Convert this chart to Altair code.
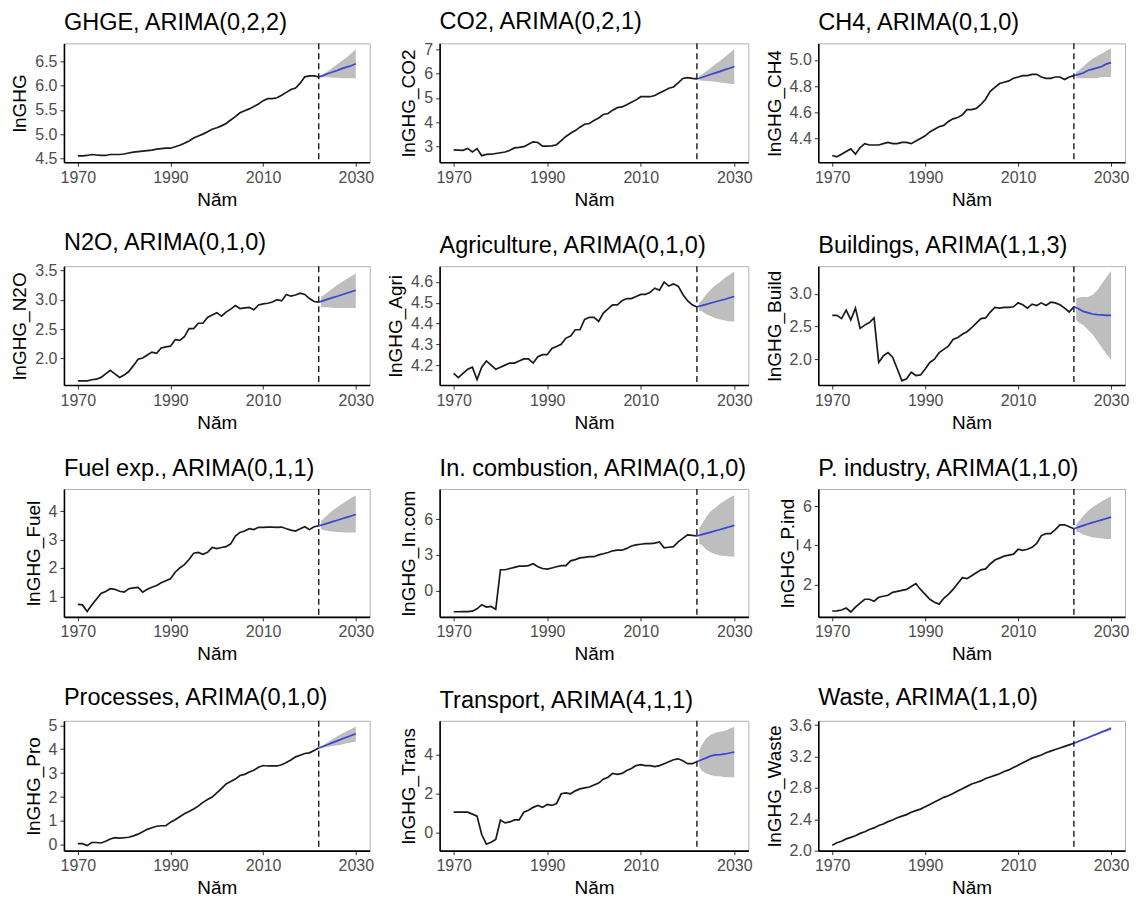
import altair as alt
import pandas as pd

FONT = "Liberation Sans"

YEARS = list(range(1970, 2023))
FC_YEARS = list(range(2022, 2031))
BAND_YEARS = [2022.5, 2023, 2024, 2025, 2026, 2027, 2028, 2029, 2030]
X_TICKS = [1970, 1990, 2010, 2030]

TITLES = ["GHGE, ARIMA(0,2,2)", "CO2, ARIMA(0,2,1)", "CH4, ARIMA(0,1,0)",
          "N2O, ARIMA(0,1,0)", "Agriculture, ARIMA(0,1,0)", "Buildings, ARIMA(1,1,3)",
          "Fuel exp., ARIMA(0,1,1)", "In. combustion, ARIMA(0,1,0)", "P. industry, ARIMA(1,1,0)",
          "Processes, ARIMA(0,1,0)", "Transport, ARIMA(4,1,1)", "Waste, ARIMA(1,1,0)"]
YLABS = ["lnGHG", "lnGHG_CO2", "lnGHG_CH4", "lnGHG_N2O", "lnGHG_Agri", "lnGHG_Build",
         "lnGHG_Fuel", "lnGHG_In.com", "lnGHG_P.ind", "lnGHG_Pro", "lnGHG_Trans", "lnGHG_Waste"]

# ---- historical series (1970..2022) ----
ghge = [4.55, 4.55, 4.56, 4.58, 4.57, 4.56, 4.56, 4.58, 4.58, 4.58,
        4.59, 4.61, 4.63, 4.64, 4.65, 4.66, 4.67, 4.69, 4.70, 4.71,
        4.71, 4.74, 4.77, 4.81, 4.86, 4.92, 4.96, 5.00, 5.05, 5.10,
        5.13, 5.17, 5.22, 5.29, 5.36, 5.44, 5.48, 5.52, 5.57, 5.62,
        5.69, 5.73, 5.73, 5.75, 5.80, 5.86, 5.92, 5.95, 6.05, 6.18,
        6.20, 6.20, 6.18]
co2 = [2.87, 2.86, 2.85, 2.93, 2.78, 2.92, 2.63, 2.68, 2.69, 2.72,
       2.75, 2.78, 2.85, 2.95, 2.97, 3.00, 3.10, 3.20, 3.17, 3.02,
       3.02, 3.03, 3.08, 3.25, 3.42, 3.55, 3.66, 3.80, 3.92, 3.95,
       4.07, 4.18, 4.32, 4.36, 4.50, 4.60, 4.63, 4.72, 4.82, 4.92,
       5.05, 5.05, 5.05, 5.10, 5.20, 5.30, 5.40, 5.45, 5.62, 5.80,
       5.83, 5.80, 5.78]
ch4 = [4.27, 4.26, 4.28, 4.30, 4.32, 4.28, 4.33, 4.36, 4.35, 4.35,
       4.35, 4.36, 4.37, 4.36, 4.36, 4.37, 4.37, 4.36, 4.38, 4.40,
       4.42, 4.45, 4.47, 4.49, 4.50, 4.53, 4.55, 4.56, 4.58, 4.62,
       4.62, 4.63, 4.66, 4.70, 4.76, 4.79, 4.82, 4.83, 4.84, 4.86,
       4.87, 4.88, 4.88, 4.89, 4.89, 4.87, 4.86, 4.86, 4.87, 4.87,
       4.85, 4.87, 4.88]
n2o = [1.62, 1.62, 1.62, 1.64, 1.65, 1.68, 1.74, 1.80, 1.74, 1.68,
       1.72, 1.78, 1.88, 1.99, 2.01, 2.06, 2.11, 2.09, 2.18, 2.20,
       2.21, 2.32, 2.31, 2.37, 2.51, 2.51, 2.60, 2.60, 2.70, 2.74,
       2.78, 2.72, 2.79, 2.84, 2.90, 2.85, 2.86, 2.87, 2.83, 2.91,
       2.93, 2.94, 2.96, 3.00, 2.98, 3.09, 3.06, 3.08, 3.11, 3.09,
       3.02, 2.97, 2.96]
agri = [4.16, 4.14, 4.16, 4.18, 4.19, 4.13, 4.19, 4.22, 4.20, 4.18,
        4.19, 4.20, 4.21, 4.21, 4.22, 4.23, 4.23, 4.21, 4.24, 4.25,
        4.25, 4.28, 4.29, 4.30, 4.33, 4.34, 4.37, 4.37, 4.42, 4.43,
        4.43, 4.41, 4.45, 4.47, 4.49, 4.49, 4.51, 4.52, 4.52, 4.53,
        4.54, 4.54, 4.55, 4.57, 4.56, 4.60, 4.58, 4.59, 4.58, 4.54,
        4.51, 4.49, 4.48]
build = [2.67, 2.67, 2.62, 2.75, 2.60, 2.78, 2.47, 2.52, 2.56, 2.63,
         1.95, 2.05, 2.10, 2.03, 1.85, 1.67, 1.70, 1.80, 1.75, 1.76,
         1.85, 1.95, 2.00, 2.10, 2.15, 2.20, 2.30, 2.33, 2.38, 2.42,
         2.48, 2.55, 2.62, 2.63, 2.72, 2.79, 2.78, 2.79, 2.79, 2.80,
         2.86, 2.83, 2.78, 2.84, 2.82, 2.86, 2.82, 2.87, 2.86, 2.83,
         2.78, 2.72, 2.80]
fuel = [0.72, 0.70, 0.47, 0.70, 0.90, 1.10, 1.17, 1.27, 1.25, 1.18,
        1.15, 1.27, 1.30, 1.32, 1.15, 1.25, 1.32, 1.38, 1.48, 1.55,
        1.62, 1.85, 2.00, 2.12, 2.30, 2.52, 2.55, 2.48, 2.55, 2.72,
        2.68, 2.72, 2.75, 2.85, 3.12, 3.25, 3.30, 3.38, 3.35, 3.43,
        3.43, 3.44, 3.44, 3.43, 3.44, 3.38, 3.33, 3.30, 3.38, 3.45,
        3.35, 3.45, 3.48]
incom = [-1.80, -1.80, -1.78, -1.78, -1.75, -1.55, -1.20, -1.40, -1.35, -1.60,
         1.75, 1.75, 1.85, 1.95, 2.05, 2.05, 2.10, 2.25, 2.00, 1.85,
         1.80, 1.90, 2.00, 2.10, 2.10, 2.50, 2.60, 2.75, 2.80, 2.85,
         2.85, 3.00, 3.10, 3.20, 3.35, 3.40, 3.40, 3.55, 3.75, 3.85,
         3.90, 3.95, 3.95, 4.00, 4.10, 3.60, 3.65, 3.70, 4.10, 4.40,
         4.70, 4.65, 4.60]
pind = [0.65, 0.66, 0.70, 0.80, 0.60, 0.85, 1.05, 1.25, 1.25, 1.15,
        1.35, 1.40, 1.45, 1.60, 1.65, 1.70, 1.75, 1.90, 2.05, 1.75,
        1.50, 1.25, 1.10, 1.00, 1.30, 1.50, 1.75, 2.05, 2.35, 2.30,
        2.45, 2.60, 2.75, 2.80, 3.05, 3.25, 3.35, 3.45, 3.50, 3.55,
        3.80, 3.75, 3.80, 3.90, 4.10, 4.50, 4.60, 4.60, 4.80, 5.05,
        5.05, 4.95, 4.85]
proc = [0.05, 0.05, -0.03, 0.10, 0.10, 0.08, 0.15, 0.25, 0.30, 0.28,
        0.30, 0.32, 0.38, 0.45, 0.55, 0.65, 0.72, 0.78, 0.80, 0.80,
        0.95, 1.05, 1.18, 1.30, 1.40, 1.50, 1.62, 1.78, 1.90, 2.00,
        2.18, 2.35, 2.55, 2.65, 2.75, 2.90, 2.95, 3.05, 3.12, 3.25,
        3.32, 3.30, 3.30, 3.30, 3.35, 3.45, 3.55, 3.68, 3.75, 3.82,
        3.85, 3.95, 4.05]
trans = [1.05, 1.05, 1.05, 1.05, 0.95, 0.85, -0.10, -0.60, -0.50, -0.35,
         0.65, 0.50, 0.55, 0.65, 0.65, 1.05, 1.15, 1.30, 1.40, 1.30,
         1.45, 1.40, 1.50, 2.00, 2.05, 2.00, 2.15, 2.25, 2.30, 2.35,
         2.45, 2.55, 2.75, 2.85, 3.05, 3.00, 3.05, 3.20, 3.30, 3.45,
         3.50, 3.45, 3.45, 3.40, 3.45, 3.55, 3.65, 3.75, 3.80, 3.70,
         3.55, 3.55, 3.65]
waste = [2.07, 2.10, 2.12, 2.15, 2.17, 2.19, 2.22, 2.24, 2.27, 2.29,
         2.32, 2.34, 2.37, 2.39, 2.42, 2.44, 2.46, 2.49, 2.51, 2.53,
         2.56, 2.59, 2.62, 2.65, 2.68, 2.70, 2.73, 2.76, 2.79, 2.82,
         2.85, 2.87, 2.89, 2.92, 2.94, 2.96, 2.98, 3.01, 3.03, 3.06,
         3.09, 3.12, 3.15, 3.18, 3.20, 3.22, 3.25, 3.27, 3.29, 3.31,
         3.33, 3.35, 3.37]

# ---- point forecasts (2022..2030) ----
ghge_fc = [6.18, 6.21, 6.25, 6.28, 6.31, 6.35, 6.38, 6.41, 6.45]
co2_fc = [5.78, 5.84, 5.90, 5.97, 6.03, 6.09, 6.16, 6.22, 6.29]
ch4_fc = [4.88, 4.89, 4.90, 4.92, 4.93, 4.94, 4.95, 4.97, 4.98]
n2o_fc = [2.96, 2.985, 3.01, 3.035, 3.06, 3.085, 3.11, 3.135, 3.16]
agri_fc = [4.48, 4.486, 4.492, 4.499, 4.505, 4.511, 4.517, 4.524, 4.53]
build_fc = [2.80, 2.77, 2.73, 2.71, 2.69, 2.68, 2.675, 2.67, 2.67]
fuel_fc = [3.48, 3.53, 3.58, 3.63, 3.68, 3.73, 3.78, 3.83, 3.88]
incom_fc = [4.60, 4.71, 4.82, 4.93, 5.04, 5.15, 5.26, 5.38, 5.50]
pind_fc = [4.85, 4.93, 5.01, 5.09, 5.16, 5.23, 5.30, 5.37, 5.44]
proc_fc = [4.05, 4.125, 4.20, 4.275, 4.35, 4.425, 4.50, 4.575, 4.65]
trans_fc = [3.65, 3.75, 3.85, 3.95, 4.00, 4.02, 4.05, 4.10, 4.15]
waste_fc = [3.37, 3.394, 3.418, 3.441, 3.465, 3.489, 3.513, 3.536, 3.56]

# ---- prediction band (BAND_YEARS) ----
ghge_hi = [6.21, 6.24, 6.30, 6.37, 6.44, 6.51, 6.58, 6.66, 6.75]
ghge_lo = [6.16, 6.17, 6.17, 6.16, 6.16, 6.15, 6.15, 6.15, 6.15]
co2_hi = [5.90, 5.96, 6.10, 6.24, 6.39, 6.53, 6.68, 6.84, 7.00]
co2_lo = [5.72, 5.72, 5.70, 5.68, 5.66, 5.63, 5.61, 5.58, 5.56]
ch4_hi = [4.91, 4.92, 4.95, 4.98, 5.01, 5.03, 5.05, 5.07, 5.09]
ch4_lo = [4.86, 4.86, 4.86, 4.86, 4.86, 4.86, 4.87, 4.87, 4.87]
n2o_hi = [3.05, 3.07, 3.13, 3.19, 3.25, 3.30, 3.35, 3.40, 3.45]
n2o_lo = [2.87, 2.87, 2.87, 2.86, 2.86, 2.86, 2.86, 2.86, 2.86]
agri_hi = [4.50, 4.51, 4.54, 4.565, 4.585, 4.60, 4.62, 4.635, 4.65]
agri_lo = [4.46, 4.46, 4.445, 4.435, 4.425, 4.42, 4.415, 4.41, 4.41]
build_hi = [2.93, 2.94, 2.95, 2.95, 2.98, 3.05, 3.15, 3.25, 3.35]
build_lo = [2.60, 2.56, 2.52, 2.45, 2.38, 2.28, 2.18, 2.08, 1.99]
fuel_hi = [3.65, 3.72, 3.88, 4.02, 4.14, 4.25, 4.36, 4.46, 4.55]
fuel_lo = [3.36, 3.34, 3.30, 3.28, 3.27, 3.26, 3.25, 3.25, 3.25]
incom_hi = [5.30, 5.55, 6.20, 6.70, 7.00, 7.35, 7.60, 7.85, 8.05]
incom_lo = [3.95, 3.85, 3.45, 3.20, 3.05, 2.95, 2.90, 2.87, 2.85]
pind_hi = [5.05, 5.20, 5.50, 5.75, 5.95, 6.10, 6.25, 6.38, 6.50]
pind_lo = [4.70, 4.68, 4.55, 4.48, 4.42, 4.38, 4.35, 4.33, 4.32]
proc_hi = [4.10, 4.17, 4.30, 4.42, 4.54, 4.65, 4.75, 4.85, 4.95]
proc_lo = [4.02, 4.06, 4.10, 4.13, 4.16, 4.20, 4.25, 4.28, 4.32]
trans_hi = [4.20, 4.50, 4.85, 5.05, 5.15, 5.20, 5.25, 5.35, 5.45]
trans_lo = [3.40, 3.20, 3.05, 2.95, 2.90, 2.90, 2.85, 2.85, 2.85]
waste_hi = [3.375, 3.40, 3.426, 3.451, 3.477, 3.503, 3.529, 3.554, 3.58]
waste_lo = [3.365, 3.388, 3.41, 3.431, 3.453, 3.475, 3.497, 3.518, 3.54]

# ---- y domains and tick values ----
Y_DOMAINS = [[4.42, 6.87], [2.36, 7.24], [4.218, 5.127],
             [1.55, 3.57], [4.104, 4.676], [1.605, 3.42],
             [0.28, 4.78], [-2.23, 8.57], [0.35, 6.88],
             [-0.24, 5.19], [-0.93, 5.76], [2.0, 3.657]]
Y_TICKS = [[4.5, 5.0, 5.5, 6.0, 6.5], [3, 4, 5, 6, 7], [4.4, 4.6, 4.8, 5.0],
           [2.0, 2.5, 3.0, 3.5], [4.1, 4.2, 4.3, 4.4, 4.5, 4.6], [2.0, 2.5, 3.0],
           [1, 2, 3, 4], [0, 3, 6], [2, 4, 6],
           [0, 1, 2, 3, 4, 5], [0, 2, 4], [2.0, 2.4, 2.8, 3.2, 3.6]]
Y_FORMATS = [".1f", "d", ".1f", ".1f", ".1f", ".1f", "d", "d", "d", "d", "d", ".1f"]

HIST = [ghge, co2, ch4, n2o, agri, build, fuel, incom, pind, proc, trans, waste]
FC = [ghge_fc, co2_fc, ch4_fc, n2o_fc, agri_fc, build_fc, fuel_fc, incom_fc,
      pind_fc, proc_fc, trans_fc, waste_fc]
HI = [ghge_hi, co2_hi, ch4_hi, n2o_hi, agri_hi, build_hi, fuel_hi, incom_hi,
      pind_hi, proc_hi, trans_hi, waste_hi]
LO = [ghge_lo, co2_lo, ch4_lo, n2o_lo, agri_lo, build_lo, fuel_lo, incom_lo,
      pind_lo, proc_lo, trans_lo, waste_lo]

COL_W = [306, 309, 307]
ROW_H = [119, 119, 128, 130]


def panel(i):
    xs = alt.Scale(domain=[1967, 2033], nice=False, zero=False)
    ys = alt.Scale(domain=Y_DOMAINS[i], nice=False, zero=False)
    xax = alt.Axis(values=X_TICKS, format="d")
    yax = alt.Axis(values=Y_TICKS[i], format=Y_FORMATS[i])
    X = alt.X("year:Q", scale=xs, axis=xax, title="Năm")

    band_df = pd.DataFrame({"year": BAND_YEARS, "lo": LO[i], "hi": HI[i]})
    hist_df = pd.DataFrame({"year": YEARS, "v": HIST[i]})
    fc_df = pd.DataFrame({"year": FC_YEARS, "v": FC[i]})
    vline_df = pd.DataFrame({"year": [2022]})

    band = alt.Chart(band_df).mark_area(color="#BEBEBE", opacity=1).encode(
        x=X, y=alt.Y("lo:Q", scale=ys, axis=yax, title=YLABS[i]), y2="hi:Q")
    hist = alt.Chart(hist_df).mark_line(color="#1A1A1A", strokeWidth=1.7).encode(
        x=X, y=alt.Y("v:Q", scale=ys, axis=yax, title=YLABS[i]))
    fc = alt.Chart(fc_df).mark_line(color="#3346D6", strokeWidth=1.7).encode(
        x=X, y=alt.Y("v:Q", scale=ys, axis=yax, title=YLABS[i]))
    vline = alt.Chart(vline_df).mark_rule(color="#1A1A1A", strokeDash=[6, 4],
                                           strokeWidth=1.4).encode(x=X)

    r, c = divmod(i, 3)
    return alt.layer(band, hist, fc, vline).properties(
        width=COL_W[c], height=ROW_H[r],
        title=alt.TitleParams(TITLES[i], anchor="start", frame="group"))


chart = alt.concat(*[panel(i) for i in range(12)], columns=3,
                   spacing={"row": 104, "column": 70}).properties(
    bounds="flush", align="each", background="white",
    padding={"left": 2, "top": 0, "right": 5, "bottom": 5},
).configure_view(
    stroke="#B0B0B0", strokeWidth=1
).configure_axis(
    grid=False, domainColor="#000000", domainWidth=1.6,
    tickColor="#333333", tickSize=4, tickWidth=1,
    labelFont=FONT, labelFontSize=16, labelColor="#4D4D4D", labelPadding=3,
    labelFlush=False, labelOverlap=False,
    titleFont=FONT, titleFontSize=19, titleFontWeight="normal", titleColor="#000000",
    titlePadding=5,
).configure_title(
    font=FONT, fontSize=23.5, fontWeight="normal", color="#000000", offset=8
)

chart.save("out.html", embed_options={"renderer": "svg", "actions": False})
